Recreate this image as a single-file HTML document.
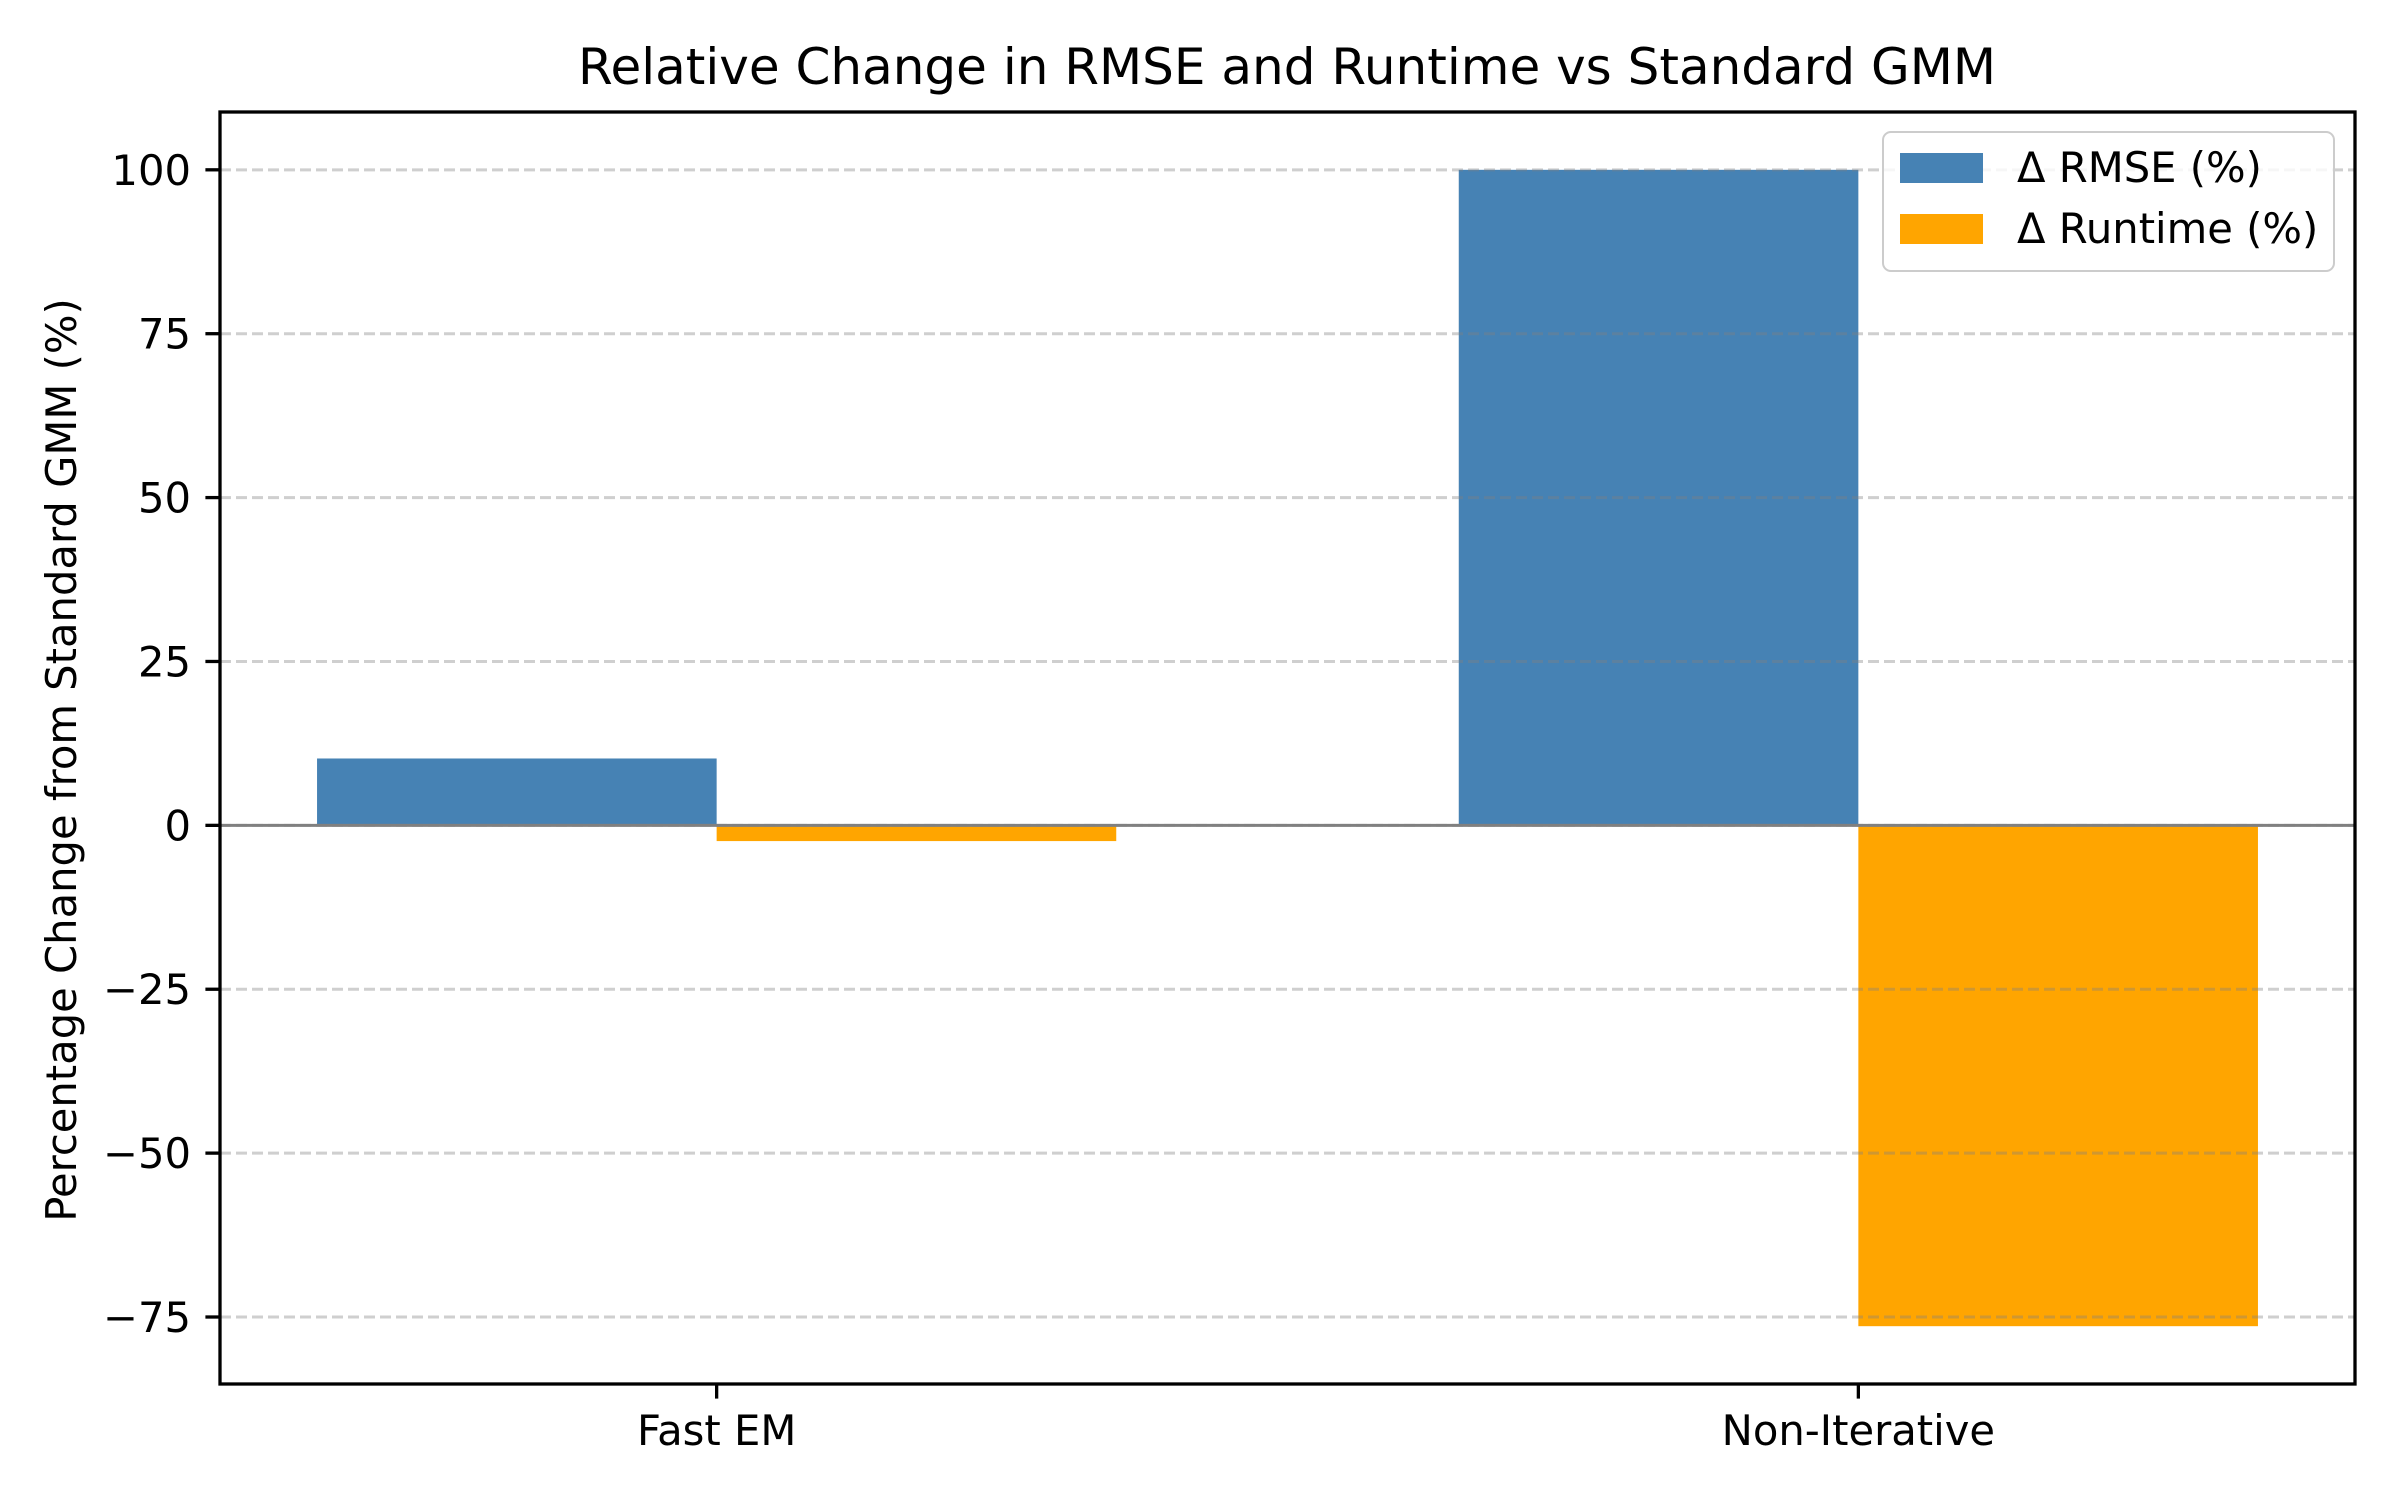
<!DOCTYPE html>
<html><head><meta charset="utf-8"><style>
html,body{margin:0;padding:0;background:#fff;}
svg{display:block;font-family:"DejaVu Sans","Liberation Sans",sans-serif;}
</style></head><body>
<svg id="chart" width="2400" height="1500" viewBox="0 0 2400 1500" xmlns="http://www.w3.org/2000/svg">
<rect width="2400" height="1500" fill="#fff"/>
<text x="1287" y="84" font-size="50" text-anchor="middle" fill="#000">Relative Change in RMSE and Runtime vs Standard GMM</text>
<text transform="translate(76,760) rotate(-90)" font-size="41.7" text-anchor="middle" fill="#000">Percentage Change from Standard GMM (%)</text>
<g id="grid"></g>
<g id="bars"></g>
<g id="gridover"></g>
<g id="axes"></g>
<g id="legend">
<rect x="1883" y="132" width="451" height="139" rx="8" fill="#fff" fill-opacity="0.8" stroke="#ccc" stroke-width="2"/>
<rect x="1900" y="153" width="83" height="30" fill="#4682b4"/>
<text x="2017" y="182" font-size="41.7" fill="#000">Δ RMSE (%)</text>
<rect x="1900" y="214" width="83" height="30" fill="#ffa500"/>
<text x="2017" y="243" font-size="41.7" fill="#000">Δ Runtime (%)</text>
</g>
</svg>
<script>
const categories = ["Fast EM", "Non-Iterative"];
const rmseValues = [10.2, 100];
const runtimeValues = [-2.4, -76.4];
const yTicks = [-75, -50, -25, 0, 25, 50, 75, 100];
const yTickLabels = ["\u221275", "\u221250", "\u221225", "0", "25", "50", "75", "100"];

const NS = "http://www.w3.org/2000/svg";
const L = 220, R = 2355, T = 112, B = 1384;
const allVals = rmseValues.concat(runtimeValues, [0]);
const vmax = Math.max(...allVals), vmin = Math.min(...allVals);
const yMax = vmax + 0.05 * (vmax - vmin), yMin = vmin - 0.05 * (vmax - vmin);
const xMin = -0.35 - 0.085, xMax = categories.length - 1 + 0.35 + 0.085;
function yS(v) { return B - (v - yMin) / (yMax - yMin) * (B - T); }
function xS(v) { return L + (v - xMin) / (xMax - xMin) * (R - L); }
function el(tag, attrs, parent) {
  const e = document.createElementNS(NS, tag);
  for (const k in attrs) e.setAttribute(k, attrs[k]);
  parent.appendChild(e);
  return e;
}
const bars = document.getElementById("bars");
const gridG = document.getElementById("gridover");
const axes = document.getElementById("axes");
const bw = 0.35;
categories.forEach((c, i) => {
  const v1 = rmseValues[i], v2 = runtimeValues[i];
  const b1 = el("rect", {x: xS(i - bw), y: yS(Math.max(v1, 0)), width: xS(i) - xS(i - bw), height: Math.abs(yS(v1) - yS(0)), fill: "#4682b4"}, bars);
  
  
  const b2 = el("rect", {x: xS(i), y: yS(Math.max(v2, 0)), width: xS(i + bw) - xS(i), height: Math.abs(yS(v2) - yS(0)), fill: "#ffa500"}, bars);
  
  
});
yTicks.forEach((t, i) => {
  const y = yS(t);
  const g = el("line", {x1: L, x2: R, y1: y, y2: y, stroke: "#808080", "stroke-opacity": "0.38", "stroke-width": "3", "stroke-dasharray": "11,5"}, gridG);
  
  
  el("line", {x1: L - 14.6, x2: L, y1: y, y2: y, stroke: "#000", "stroke-width": "3.3"}, axes);
  const tx = el("text", {x: L - 29, y: y + 15, "font-size": "41.7", "text-anchor": "end", fill: "#000"}, axes);
  tx.textContent = yTickLabels[i];
  
  
});
const zl = el("line", {x1: L, x2: R, y1: yS(0), y2: yS(0), stroke: "#808080", "stroke-width": "3"}, axes);


categories.forEach((c, i) => {
  const x = xS(i);
  el("line", {x1: x, x2: x, y1: B, y2: B + 14.6, stroke: "#000", "stroke-width": "3.3"}, axes);
  const tx = el("text", {x: x, y: B + 61, "font-size": "41.7", "text-anchor": "middle", fill: "#000"}, axes);
  tx.textContent = c;
  
  
});
const frame = el("rect", {x: L, y: T, width: R - L, height: B - T, fill: "none", stroke: "#000", "stroke-width": "3.3"}, axes);


</script>
</body></html>
